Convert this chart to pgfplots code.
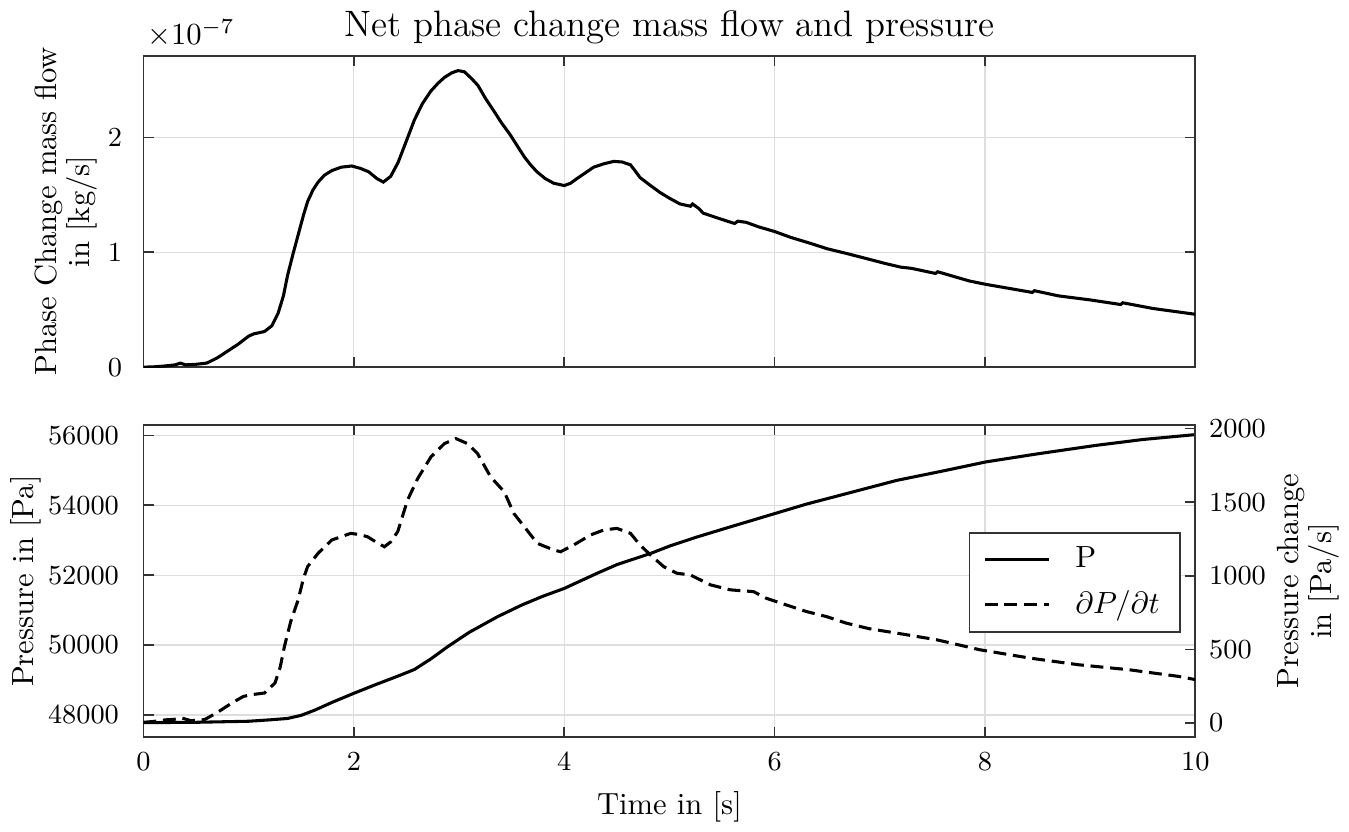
\documentclass[border=0pt]{standalone}
\usepackage{pgfplots}
\pgfplotsset{compat=1.18}
\pgfplotsset{
  base/.style={
    scale only axis, width=343.4pt, height=101.7pt,
    xmin=0, xmax=10, xtick={0,2,...,10},
    axis line style={black!80, line width=0.6pt},
    tick style={black!80, line width=0.5pt},
    major tick length=3.3pt,
    grid style={black!13, line width=0.4pt},
    tick label style={font=\fontsize{9.5}{11}\selectfont},
    xticklabel style={yshift=-1.5pt},
    label style={font=\fontsize{10}{11}\selectfont},
    /pgf/number format/.cd, fixed, 1000 sep={},
  },
}
\begin{document}
\begin{tikzpicture}
% ---------- top axis ----------
\begin{axis}[base,
  at={(0,0)}, anchor=north west,
  ymin=0, ymax=2.71, ytick={0,1,2},
  xticklabels={},
  yticklabel style={xshift=-3.5pt},
  xmajorgrids, ymajorgrids,
  ylabel={Phase Change mass flow\\in [kg/s]},
  ylabel style={align=center},
  ylabel shift=-3.5pt,
  title={Net phase change mass flow and pressure},
  title style={font=\fontsize{12}{14}\selectfont, yshift=-5.6pt},
  clip mode=individual,
]
\addplot[black, line width=1pt] coordinates {
(0,0) (0.1,0.003) (0.2,0.01) (0.3,0.02) (0.35,0.035) (0.4,0.02) (0.5,0.025) (0.6,0.035)
(0.7,0.08) (0.8,0.14) (0.9,0.20) (1.0,0.27) (1.05,0.29) (1.15,0.31) (1.22,0.36) (1.28,0.47)
(1.33,0.62) (1.37,0.8) (1.42,0.98) (1.47,1.15) (1.52,1.32) (1.56,1.44) (1.61,1.54) (1.66,1.61)
(1.72,1.67) (1.79,1.71) (1.88,1.74) (1.98,1.75) (2.06,1.73) (2.14,1.70) (2.22,1.64) (2.28,1.61)
(2.35,1.66) (2.42,1.78) (2.5,1.97) (2.575,2.15) (2.65,2.29) (2.73,2.40) (2.8,2.47) (2.86,2.52)
(2.93,2.56) (2.99,2.58) (3.05,2.57) (3.12,2.51) (3.18,2.45) (3.25,2.34) (3.33,2.23) (3.40,2.13)
(3.48,2.03) (3.55,1.93) (3.62,1.83) (3.68,1.76) (3.74,1.70) (3.82,1.64) (3.90,1.60) (4.0,1.58)
(4.06,1.60) (4.12,1.64) (4.2,1.69) (4.28,1.74) (4.38,1.77) (4.47,1.79) (4.55,1.785) (4.63,1.76)
(4.68,1.70) (4.72,1.65) (4.82,1.58) (4.91,1.52) (5.0,1.47) (5.10,1.42) (5.2,1.40) (5.22,1.42)
(5.28,1.38) (5.32,1.34) (5.45,1.30) (5.55,1.27) (5.62,1.25) (5.65,1.27) (5.73,1.26) (5.85,1.22)
(6.0,1.18) (6.15,1.13) (6.33,1.08) (6.5,1.03) (6.68,0.99) (6.85,0.95) (7.06,0.90) (7.2,0.87)
(7.3,0.86) (7.53,0.815) (7.55,0.83) (7.7,0.79) (7.85,0.75) (8.01,0.72) (8.2,0.69) (8.45,0.65)
(8.47,0.665) (8.7,0.62) (9.0,0.585) (9.29,0.545) (9.31,0.56) (9.6,0.51) (10,0.46)
};
\node[anchor=south west, inner sep=1pt, yshift=1.5pt, font=\fontsize{10}{12}\selectfont] at (rel axis cs:0,1) {$\times10^{-7}$};
\end{axis}
% ---------- bottom axis (left) ----------
\begin{axis}[base,
  at={(0,-120.7pt)}, anchor=north west,
  ymin=47374, ymax=56285, ytick={48000,50000,...,56000},
  ytick pos=left, scaled y ticks=false,
  yticklabel style={xshift=-4.5pt},
  xmajorgrids, ymajorgrids,
  xlabel={Time in [s]},
  ylabel={Pressure in [Pa]},
  ylabel shift=-4.5pt,
]
\addplot[black, line width=1pt] coordinates {
(0,47780) (0.5,47790) (1.0,47820) (1.2,47860) (1.37,47900) (1.5,47990) (1.63,48140) (1.8,48370)
(2.0,48620) (2.2,48860) (2.417,49110) (2.575,49300) (2.73,49600) (2.89,49950) (3.1,50370)
(3.365,50810) (3.6,51150) (3.8,51400) (4.0,51620) (4.31,52050) (4.5,52300) (4.82,52620)
(5.0,52830) (5.26,53090) (5.6,53400) (6.0,53760) (6.3,54030) (6.68,54330) (7.16,54710)
(7.6,54980) (8.01,55240) (8.5,55470) (9.05,55710) (9.5,55880) (10,56020)
};
\end{axis}
% ---------- bottom axis (right) ----------
\begin{axis}[base,
  at={(0,-120.7pt)}, anchor=north west,
  ymin=-95, ymax=2022, ytick={0,500,...,2000},
  axis y line*=right, axis x line=none,
  scaled y ticks=false,
  yticklabel style={xshift=1pt},
  ylabel={Pressure change\\in [Pa/s]},
  ylabel style={align=center, font=\fontsize{10}{10.5}\selectfont},
  ylabel shift=-3pt,
  legend style={at={(axis description cs:0.986,0.657)}, anchor=north east,
    draw=black!80, line width=0.6pt, font=\fontsize{10}{12}\selectfont,
    row sep=2pt, column sep=6pt, inner xsep=4.5pt, inner ysep=2.5pt},
  legend cell align=left,
  legend image code/.code={\draw[#1] (0cm,0cm) -- (0.74cm,0cm);},
]
\addlegendimage{black, line width=1pt}
\addlegendentry{P}
\addplot[black, line width=1pt, dash pattern=on 4.2pt off 2.2pt] coordinates {
(0,4) (0.1,10) (0.2,20) (0.3,25) (0.36,34) (0.45,15) (0.58,22) (0.7,70) (0.84,135) (0.95,180)
(1.03,192) (1.15,203) (1.25,271) (1.3,380) (1.34,520) (1.4,690) (1.47,836) (1.52,980) (1.56,1062)
(1.66,1153) (1.79,1243) (1.97,1288) (2.05,1280) (2.13,1265) (2.22,1225) (2.29,1197) (2.35,1230)
(2.417,1300) (2.51,1514) (2.607,1661) (2.733,1808) (2.86,1898) (2.97,1932) (3.08,1898)
(3.175,1831) (3.30,1672) (3.43,1570) (3.52,1424) (3.62,1333) (3.744,1220) (3.90,1175)
(3.965,1163) (4.09,1209) (4.25,1277) (4.376,1311) (4.50,1322) (4.63,1288) (4.72,1209)
(4.82,1141) (4.945,1062) (5.07,1017) (5.20,1005) (5.39,938) (5.58,904) (5.80,892) (5.92,847)
(6.11,802) (6.30,757) (6.49,723) (6.68,678) (6.9,640) (7.16,610) (7.54,565) (7.95,497)
(8.42,441) (8.89,395) (9.37,361) (9.84,316) (10,294)
};
\addlegendentry{$\partial P/\partial t$}
\end{axis}
\end{tikzpicture}
\end{document}
